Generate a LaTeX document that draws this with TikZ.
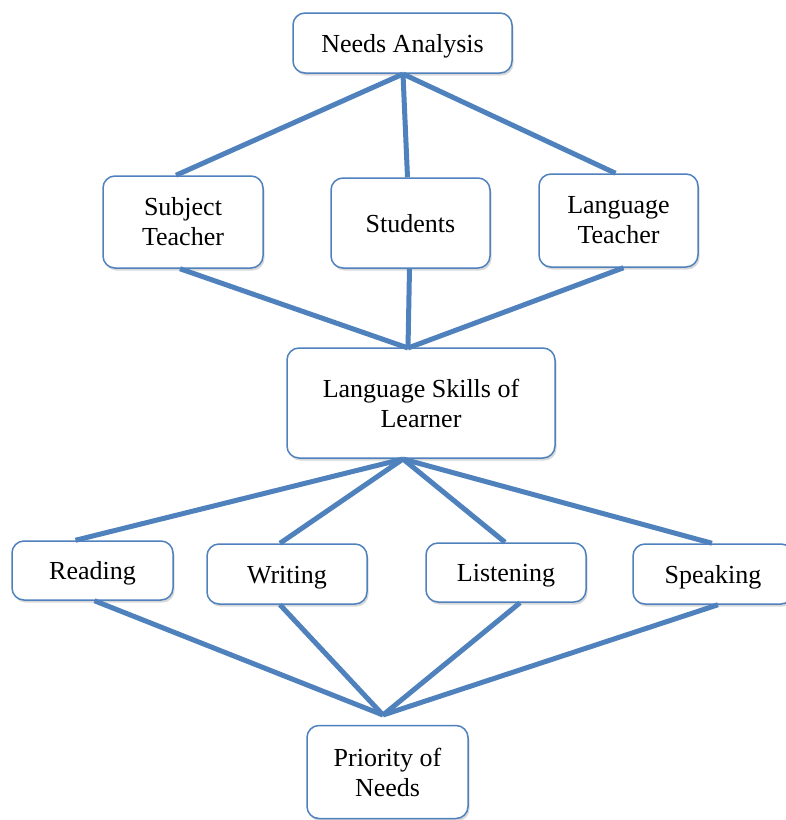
\documentclass[tikz,border=0pt]{standalone}
\usepackage{fontspec}
\setmainfont{Liberation Serif}
\usetikzlibrary{shadows,calc}
\definecolor{lnblue}{RGB}{79,129,189}
\begin{document}
\begin{tikzpicture}[x=1pt,y=-1pt,
  box/.style={draw=lnblue,line width=1.5pt,rounded corners=12pt,fill=white,
    align=center,font=\fontsize{26}{30}\selectfont,inner sep=0pt,
    drop shadow={opacity=0.3,shadow xshift=1.5pt,shadow yshift=-2.5pt}},
  oneline/.style={text height=18pt,text depth=0pt},
  link/.style={draw=lnblue,line width=5pt}]
\useasboundingbox (0,0) rectangle (786,820);
\fill[white] (0,0) rectangle (786,820);
% nodes
\node[box,oneline,minimum width=219pt,minimum height=60pt] (na) at (402.5,43) {Needs Analysis};
\node[box,minimum width=160pt,minimum height=92pt] (sub) at (183,222) {Subject\\Teacher};
\node[box,oneline,minimum width=159pt,minimum height=90pt] (stu) at (410.5,223) {Students};
\node[box,minimum width=159pt,minimum height=93pt] (lt) at (618.5,220.5) {Language\\Teacher};
\node[box,minimum width=268pt,minimum height=110pt] (ls) at (421,403) {Language Skills of\\Learner};
\node[box,oneline,minimum width=161pt,minimum height=59pt] (rd) at (92.5,570.5) {Reading};
\node[box,oneline,minimum width=160pt,minimum height=60pt] (wr) at (287,574) {Writing};
\node[box,oneline,minimum width=160pt,minimum height=59pt] (li) at (506,572.5) {Listening};
\node[box,oneline,minimum width=160pt,minimum height=60pt] (sp) at (713,574) {Speaking};
\node[box,minimum width=161pt,minimum height=93pt] (pn) at (387.5,772) {Priority of\\Needs};
% junction points
\coordinate (j0) at (403,74);
\coordinate (j1) at (408,348);
\coordinate (j2) at (403,459);
\coordinate (j3) at (383,715);
% connectors
\draw[link] (j0) -- ($(sub.north)+(-7,0)$);
\draw[link] (j0) -- ($(stu.north)+(-3,0)$);
\draw[link] (j0) -- ($(lt.north)+(-3,0)$);
\draw[link] ($(sub.south)+(-3,0)$) -- (j1);
\draw[link] ($(stu.south)+(-1,0)$) -- (j1);
\draw[link] ($(lt.south)+(5,0)$) -- (j1);
\draw[link] (j2) -- ($(rd.north)+(-17,0)$);
\draw[link] (j2) -- ($(wr.north)+(-7,0)$);
\draw[link] (j2) -- ($(li.north)+(-1,0)$);
\draw[link] (j2) -- ($(sp.north)+(-1,0)$);
\draw[link] ($(rd.south)+(2,0)$) -- (j3);
\draw[link] ($(wr.south)+(-7,0)$) -- (j3);
\draw[link] ($(li.south)+(14,0)$) -- (j3);
\draw[link] ($(sp.south)+(5,0)$) -- (j3);
\end{tikzpicture}
\end{document}
